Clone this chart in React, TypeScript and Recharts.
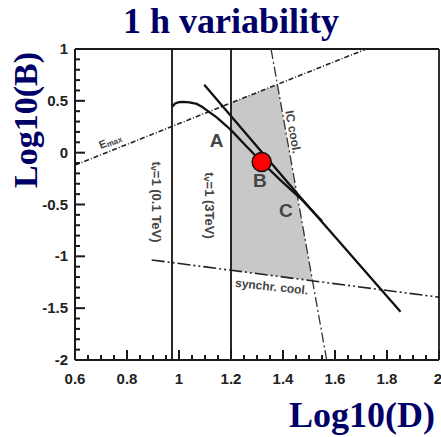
import { Area, ComposedChart, Line, ReferenceDot, ReferenceLine, XAxis, YAxis } from "recharts";

// values (x = Log10(D), y = Log10(B))
const emaxLine = [{ x: 0.6, y: -0.12 }, { x: 1.72, y: 1.0 }];
const icCoolLine = [{ x: 1.354, y: 1.0 }, { x: 1.568, y: -2.0 }];
const synchrCoolLine = [{ x: 0.895, y: -1.035 }, { x: 2.0, y: -1.394 }];
const humpCurve = [
  { x: 0.975, y: 0.445 }, { x: 0.985, y: 0.475 }, { x: 1.0, y: 0.487 }, { x: 1.015, y: 0.49 },
  { x: 1.04, y: 0.485 }, { x: 1.068, y: 0.47 }, { x: 1.09, y: 0.44 }, { x: 1.106, y: 0.41 },
  { x: 1.145, y: 0.34 }, { x: 1.183, y: 0.257 }, { x: 1.203, y: 0.21 }, { x: 1.26, y: 0.06 },
  { x: 1.318, y: -0.09 }, { x: 1.39, y: -0.265 }, { x: 1.467, y: -0.44 }, { x: 1.55, y: -0.66 },
];
const straightLine = [{ x: 1.097, y: 0.655 }, { x: 1.467, y: -0.43 }, { x: 1.852, y: -1.535 }];
const allowedRegion = [
  { x: 1.2, range: [-1.134, 0.48] },
  { x: 1.3784, range: [-1.192, 0.658] },
  { x: 1.5135, range: [-1.236, -1.236] },
];
const tvLowX = 0.973;
const tvHighX = 1.2;
const pointB = { x: 1.318, y: -0.09 };

const xTickLabels = [0.6, 0.8, 1, 1.2, 1.4, 1.6, 1.8, 2];
const yTickLabels = [-2, -1.5, -1, -0.5, 0, 0.5, 1];
const xMinorTicks = Array.from({ length: 29 }, (_, i) => +(0.6 + i * 0.05).toFixed(2));
const yMinorTicks = Array.from({ length: 31 }, (_, i) => +(-2 + i * 0.1).toFixed(1));

const axisColor = "#1a1a1a";
const labelColor = "#444";
const navy = "#000066";

const isIn = (list: number[], v: number) => list.some((t) => Math.abs(t - v) < 1e-6);

// inward ticks every 0.05 / 0.1, labels only on the major steps
const renderXTick = (props: any) => {
  const { x, y, payload } = props;
  const v = payload.value;
  const major = isIn(xTickLabels, v);
  const last = Math.abs(v - 2) < 1e-6;
  return (
    <g>
      <rect x={x - 1} y={y - (major ? 10 : 5)} width={2} height={major ? 10 : 5} fill={axisColor} />
      {major && (
        <text
          x={last ? x + 3 : x}
          y={y + 24}
          textAnchor={last ? "end" : "middle"}
          fontFamily="Liberation Sans, Arial"
          fontWeight="bold"
          fontSize={15}
          fill="#222"
        >
          {String(v)}
        </text>
      )}
    </g>
  );
};

const renderYTick = (props: any) => {
  const { x, y, payload } = props;
  const v = payload.value;
  const major = isIn(yTickLabels, v);
  return (
    <g>
      <rect x={x} y={y - 1} width={major ? 10 : 5} height={2} fill={axisColor} />
      {major && (
        <text x={x - 7} y={y + 5} textAnchor="end" fontFamily="Liberation Sans, Arial" fontWeight="bold" fontSize={15} fill="#222">
          {String(v)}
        </text>
      )}
    </g>
  );
};

const rotatedLabel = (content: any, angle: number, size = 12) => (props: any) => (
  <text
    x={props.cx}
    y={props.cy}
    transform={`rotate(${angle} ${props.cx} ${props.cy})`}
    textAnchor="middle"
    dominantBaseline="central"
    fontFamily="Liberation Sans, Arial"
    fontWeight={600}
    fontSize={size}
    fill={labelColor}
  >
    {content}
  </text>
);

const tvText = (energy: string) => (
  <>
    t<tspan fontSize={9} dy={3}>v</tspan>
    <tspan dy={-3}>{`=1 (${energy})`}</tspan>
  </>
);

export default function App() {
  return (
    <div style={{ position: "absolute", left: 0, top: 0, width: 441, height: 437, background: "#fff" }}>
      <ComposedChart width={441} height={437} margin={{ top: 49, right: 2, bottom: 37, left: 0 }}>
        <Area data={allowedRegion} dataKey="range" type="linear" fill="#c8c8c8" fillOpacity={1} stroke="none" isAnimationActive={false} />
        <ReferenceLine y={1} stroke={axisColor} strokeWidth={1.8} />
        <ReferenceLine x={2} stroke={axisColor} strokeWidth={1.8} />
        <ReferenceLine x={tvLowX} stroke="#111" strokeWidth={1.8} />
        <ReferenceLine x={tvHighX} stroke="#111" strokeWidth={1.8} />
        <Line data={emaxLine} dataKey="y" type="linear" stroke="#222" strokeWidth={1.6} strokeDasharray="5 2 1 2" dot={false} activeDot={false} isAnimationActive={false} />
        <Line data={icCoolLine} dataKey="y" type="linear" stroke="#333" strokeWidth={1.3} strokeDasharray="10 3 2 3" dot={false} activeDot={false} isAnimationActive={false} />
        <Line data={synchrCoolLine} dataKey="y" type="linear" stroke="#222" strokeWidth={1.6} strokeDasharray="13 3 2 3 2 3" dot={false} activeDot={false} isAnimationActive={false} />
        <Line data={humpCurve} dataKey="y" type="linear" stroke="#111" strokeWidth={2.3} dot={false} activeDot={false} isAnimationActive={false} />
        <Line data={straightLine} dataKey="y" type="linear" stroke="#111" strokeWidth={2.3} dot={false} activeDot={false} isAnimationActive={false} />
        <ReferenceDot x={pointB.x} y={pointB.y} r={9.5} fill="#ff0000" stroke="#111" strokeWidth={1.5} />
        <ReferenceDot x={0.735} y={0.112} r={0} shape={rotatedLabel(<>E<tspan fontSize={8} dy={2}>max</tspan></>, -21.8, 11)} />
        <ReferenceDot x={0.915} y={-0.476} r={0} shape={rotatedLabel(tvText("0.1 TeV"), 90, 13)} />
        <ReferenceDot x={1.119} y={-0.51} r={0} shape={rotatedLabel(tvText("3TeV"), 90, 13)} />
        <ReferenceDot x={1.4385} y={0.2} r={0} shape={rotatedLabel("IC cool.", 79.8, 12)} />
        <ReferenceDot x={1.3565} y={-1.293} r={0} shape={rotatedLabel("synchr. cool.", 6, 12)} />
        <ReferenceDot x={1.145} y={0.122} r={0} shape={rotatedLabel("A", 0, 19)} />
        <ReferenceDot x={1.3115} y={-0.268} r={0} shape={rotatedLabel("B", 0, 19)} />
        <ReferenceDot x={1.4115} y={-0.558} r={0} shape={rotatedLabel("C", 0, 19)} />
        <XAxis
          type="number"
          dataKey="x"
          domain={[0.6, 2]}
          ticks={xMinorTicks}
          interval={0}
          allowDataOverflow
          height={40}
          tickSize={0}
          tickMargin={0}
          tickLine={false}
          tick={renderXTick}
          axisLine={{ stroke: axisColor, strokeWidth: 2 }}
        />
        <YAxis
          type="number"
          domain={[-2, 1]}
          ticks={yMinorTicks}
          interval={0}
          allowDataOverflow
          width={75}
          tickSize={0}
          tickMargin={0}
          tickLine={false}
          tick={renderYTick}
          axisLine={{ stroke: axisColor, strokeWidth: 2 }}
        />
      </ComposedChart>
      <svg width={441} height={437} style={{ position: "absolute", left: 0, top: 0, pointerEvents: "none" }}>
        <text x={231} y={33} textAnchor="middle" fontFamily="Liberation Serif, Times New Roman" fontWeight="bold" fontSize={36} fill={navy}>
          1 h variability
        </text>
        <text x={36.5} y={120} transform="rotate(-90 36.5 120)" textAnchor="middle" fontFamily="Liberation Serif, Times New Roman" fontWeight="bold" fontSize={34} fill={navy}>
          Log10(B)
        </text>
        <text x={362} y={427} textAnchor="middle" fontFamily="Liberation Serif, Times New Roman" fontWeight="bold" fontSize={36} fill={navy}>
          Log10(D)
        </text>
      </svg>
    </div>
  );
}
